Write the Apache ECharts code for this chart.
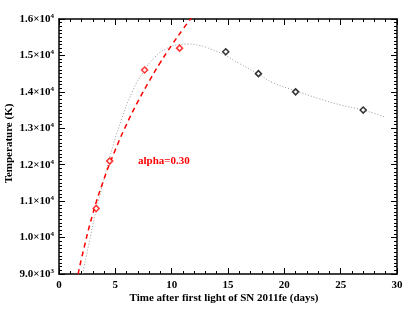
<!DOCTYPE html>
<html>
<head>
<meta charset="UTF-8">
<title>SN 2011fe temperature</title>
<style>
  html, body { margin: 0; padding: 0; background: #fff; }
  #main { width: 415px; height: 312px; }
</style>
</head>
<body>
<div id="main"></div>
<script src="https://cdn.jsdelivr.net/npm/echarts@6/dist/echarts.min.js"></script>
<script>
// measured points (days, K)
var earlyPts = [[3.3, 10800], [4.5, 12100], [7.6, 14600], [10.7, 15200]];
var latePts = [[14.8, 15100], [17.7, 14500], [21.0, 14000], [27.0, 13500]];

// red dashed fit
var fitPts = [[1.7, 9000], [2, 9430], [3, 10650], [4, 11610], [5, 12410], [6, 13110],
  [7, 13730], [8, 14290], [9, 14810], [10, 15280], [11, 15720], [12, 16140]];

// grey dotted curve
var modelPts = [[2.1, 9000], [2.7, 9900], [3.3, 10750], [4.0, 11600], [4.5, 12200],
  [5.5, 13200], [6.5, 14000], [7.5, 14550], [8.5, 14950], [9.5, 15180], [10.5, 15290],
  [11.5, 15310], [12.5, 15270], [13.5, 15170], [14.7, 15010], [16, 14780], [17.7, 14490],
  [19, 14250], [21, 14030], [23, 13820], [25, 13640], [27, 13500], [29, 13300]];

var yTickValues = [9000, 10000, 11000, 12000, 13000, 14000, 15000, 16000];
var yTickMant = ['9.0', '1.0', '1.1', '1.2', '1.3', '1.4', '1.5', '1.6'];
var yTickExp = ['3', '4', '4', '4', '4', '4', '4', '4'];

var font = 'Liberation Serif';
var chart = echarts.init(document.getElementById('main'));

function frameAxis(extra) {
  var base = {
    axisLine: { show: true, onZero: false, lineStyle: { color: '#000', width: 1.5 } },
    axisTick: { show: true, inside: true, length: 6, lineStyle: { color: '#000', width: 1 } },
    minorTick: { show: true, length: 3, lineStyle: { color: '#000', width: 1 } },
    splitLine: { show: false },
    minorSplitLine: { show: false }
  };
  for (var k in extra) base[k] = extra[k];
  return base;
}

chart.setOption({
  backgroundColor: '#fff',
  animation: false,
  grid: { left: 59, right: 18, top: 19, bottom: 38, containLabel: false, outerBoundsMode: 'none' },
  xAxis: [
    frameAxis({
      type: 'value', min: 0, max: 30, interval: 5, position: 'bottom',
      minorTick: { show: true, splitNumber: 5, length: 3, lineStyle: { color: '#000', width: 1 } },
      axisLabel: { color: '#000', fontFamily: font, fontWeight: 'bold', fontSize: 11, margin: 6 },
      name: 'Time after first light of SN 2011fe (days)',
      nameLocation: 'middle', nameGap: 19, nameMoveOverlap: false,
      nameTextStyle: { color: '#000', fontFamily: font, fontWeight: 'bold', fontSize: 11, padding: [0, 8, 0, 0] }
    }),
    frameAxis({
      type: 'value', min: 0, max: 30, interval: 5, position: 'top',
      minorTick: { show: true, splitNumber: 5, length: 3, lineStyle: { color: '#000', width: 1 } },
      axisLabel: { show: false }
    })
  ],
  yAxis: [
    frameAxis({
      type: 'value', min: 9000, max: 16000, interval: 1000, position: 'left',
      minorTick: { show: true, splitNumber: 10, length: 3, lineStyle: { color: '#000', width: 1 } },
      axisLabel: {
        margin: 5,
        formatter: function (v) {
          var i = yTickValues.indexOf(v);
          return '{m|' + yTickMant[i] + '×10}{e|' + yTickExp[i] + '}';
        },
        rich: {
          m: { color: '#000', fontFamily: font, fontWeight: 'bold', fontSize: 11 },
          e: { color: '#000', fontFamily: font, fontWeight: 'bold', fontSize: 7, padding: [0, 0, 6, 0] }
        }
      },
      name: 'Temperature (K)',
      nameLocation: 'middle', nameGap: 44, nameRotate: 90, nameMoveOverlap: false,
      nameTextStyle: { color: '#000', fontFamily: font, fontWeight: 'bold', fontSize: 11, padding: [0, 0, 0, 6] }
    }),
    frameAxis({
      type: 'value', min: 9000, max: 16000, interval: 1000, position: 'right',
      minorTick: { show: true, splitNumber: 10, length: 3, lineStyle: { color: '#000', width: 1 } },
      axisLabel: { show: false }
    })
  ],
  series: [
    {
      type: 'line', data: modelPts, smooth: true, symbol: 'none',
      lineStyle: { color: '#999', width: 1, type: [1, 2] }, z: 1
    },
    {
      type: 'line', data: fitPts, smooth: true, symbol: 'none',
      lineStyle: { color: '#ff0000', width: 1.5, type: [5, 4] }, z: 2
    },
    {
      type: 'scatter', data: earlyPts, symbol: 'diamond', symbolSize: 6,
      itemStyle: { color: '#fff', borderColor: '#ff0000', borderWidth: 1.5 }, z: 3
    },
    {
      type: 'scatter', data: latePts, symbol: 'diamond', symbolSize: 6,
      itemStyle: { color: '#fff', borderColor: '#000', borderWidth: 1.5 }, z: 3
    }
  ],
  graphic: [{
    type: 'text', left: 138, top: 156,
    style: { text: 'alpha=0.30', fill: '#ff0000', font: 'bold 11px "Liberation Serif"' }
  }]
});
</script>
</body>
</html>
